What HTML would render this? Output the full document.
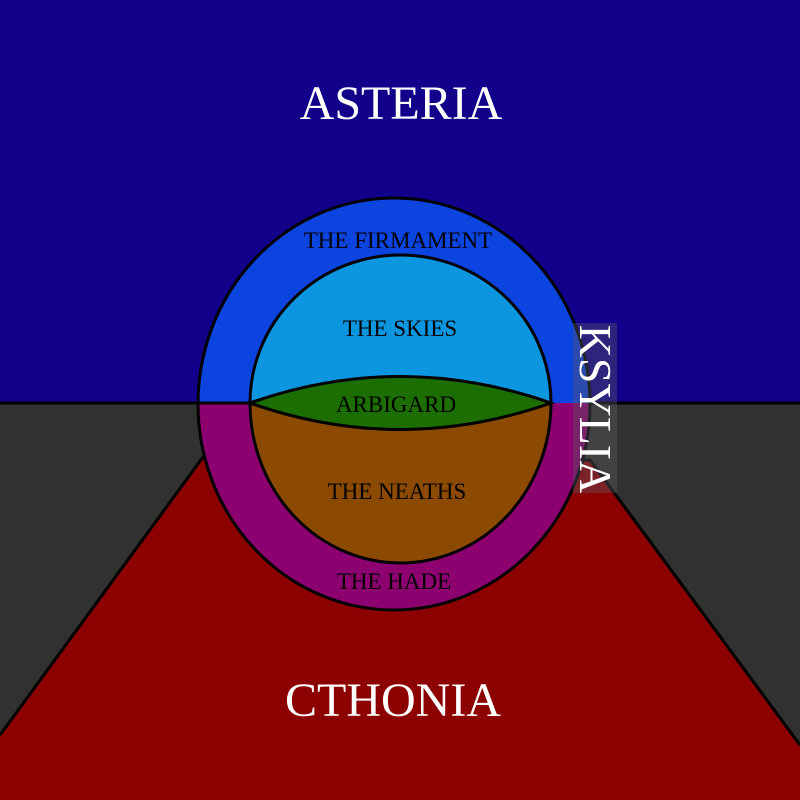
<!DOCTYPE html>
<html><head><style>body{margin:0}svg{display:block}</style></head><body>
<svg width="800" height="800" viewBox="0 0 800 800" xmlns="http://www.w3.org/2000/svg">
<rect x="0" y="0" width="800" height="403" fill="#10008a"/>
<rect x="0" y="403" width="800" height="397" fill="#303230"/>
<line x1="0" y1="403" x2="800" y2="403" stroke="#000" stroke-width="3"/>
<polygon points="203,457 590,460 800,745 800,802 0,802 0,735" fill="#8c0000"/>
<polyline points="0,735 203,457 590,460 800,745" fill="none" stroke="#000" stroke-width="3"/>
<path d="M198,403 A196,206 0 0 1 590,403 Z" fill="#0c44e0"/>
<path d="M198,403 A196,206 0 0 0 590,403 Z" fill="#8c0070"/>
<ellipse cx="394" cy="404" rx="196" ry="206" fill="none" stroke="#000" stroke-width="3"/>
<line x1="198" y1="403" x2="250" y2="403" stroke="#000" stroke-width="3"/>
<path d="M250,403 A150.5,148 0 0 1 551,403 Z" fill="#0c96e0"/>
<path d="M250,403 A150.5,160 0 0 0 551,403 Z" fill="#8c4a00"/>
<path d="M250,403 A150.5,148 0 0 1 551,403 A150.5,160 0 0 1 250,403 Z" fill="none" stroke="#000" stroke-width="3"/>
<path d="M250,403 Q400,350 551,403 Q400,456 250,403 Z" fill="#1c6e00" stroke="#000" stroke-width="3"/>
<g font-family="Liberation Serif, serif" text-anchor="middle">
<text x="401" y="119" font-size="48" fill="#fff">ASTERIA</text>
<text x="393" y="716" font-size="48" fill="#fff">CTHONIA</text>
<text x="398" y="248" font-size="23" fill="#000">THE FIRMAMENT</text>
<text x="400" y="336" font-size="23" fill="#000">THE SKIES</text>
<text x="396" y="412" font-size="23" fill="#000">ARBIGARD</text>
<text x="397" y="499" font-size="23" fill="#000">THE NEATHS</text>
<text x="394" y="589" font-size="23" fill="#000">THE HADE</text>
</g>
<rect x="573" y="323" width="44" height="170" fill="rgba(90,90,100,0.4)"/>
<text x="0" y="0" transform="translate(580,409) rotate(90)" font-family="Liberation Serif, serif" font-size="46" fill="#fff" text-anchor="middle">KSYLIA</text>
</svg>
</body></html>
